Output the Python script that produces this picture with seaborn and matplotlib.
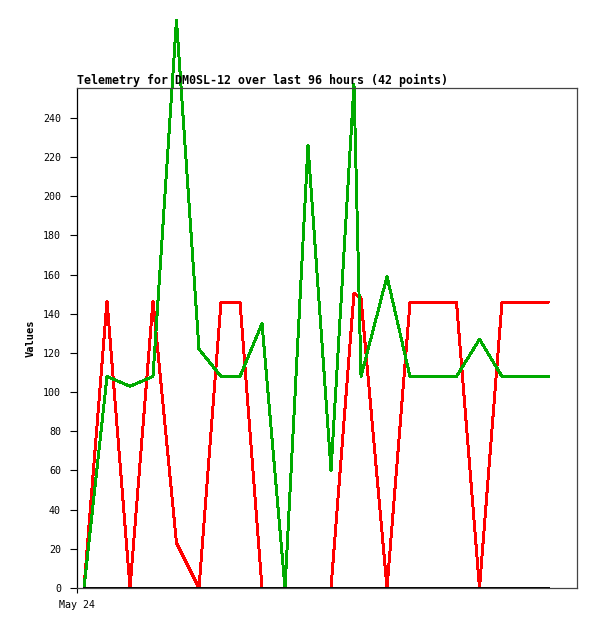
import matplotlib

matplotlib.use("Agg")
import matplotlib.pyplot as plt
import pandas as pd
import seaborn as sns

# hours since May 24 00:00
HOURS = [1.34, 5.76, 10.18, 14.59, 19.1, 23.42, 27.65, 31.3, 35.52, 39.94, 44.35,
         48.77, 53.18, 54.53, 59.52, 63.94, 68.35, 72.86, 77.28, 81.6, 86.02, 90.53]
RED_VALUES = [0, 146.5, 0, 146.5, 23, 0, 146, 146, 0, 0, 0,
              0, 150.5, 148, 0, 146, 146, 146, 0, 146, 146, 146]
GREEN_VALUES = [0, 108, 103, 108, 290, 122, 108, 108, 135, 0, 226,
                60, 257, 108, 159, 108, 108, 108, 127, 108, 108, 108]
BASE_VALUES = [0] * len(HOURS)

SERIES = ["Channel A", "Channel B", "Baseline"]
COLORS = ["#ff0000", "#00aa00", "#000000"]
Y_TICKS = [0, 20, 40, 60, 80, 100, 120, 140, 160, 180, 200, 220, 240]
TITLE = "Telemetry for DM0SL-12 over last 96 hours (42 points)"

frames = []
for name, values in zip(SERIES, [RED_VALUES, GREEN_VALUES, BASE_VALUES]):
    frames.append(pd.DataFrame({"hours": HOURS, "value": values, "series": name}))
data = pd.concat(frames, ignore_index=True)

sns.set_theme(style="white")
plt.rcParams["font.family"] = ["DejaVu Sans Mono", "DejaVu Sans"]
plt.rcParams["text.color"] = "black"
plt.rcParams["axes.labelcolor"] = "black"
plt.rcParams["xtick.color"] = "black"
plt.rcParams["ytick.color"] = "black"

fig = plt.figure(figsize=(5.97, 6.29), dpi=100)
ax = fig.add_axes([77 / 597, 41 / 629, 500 / 597, 500 / 629])

sns.lineplot(
    data=data,
    x="hours",
    y="value",
    hue="series",
    hue_order=SERIES,
    palette=COLORS,
    linewidth=1.4,
    legend=False,
    clip_on=False,
    antialiased=False,
    ax=ax,
)

ax.set_xlim(0, 96)
ax.set_ylim(0, 255.3)
ax.set_yticks(Y_TICKS)
ax.set_yticklabels([str(v) for v in Y_TICKS], fontsize=7.2)
ax.set_xticks([0])
ax.set_xticklabels(["May 24"], fontsize=7.2)
ax.tick_params(axis="y", direction="out", length=5, width=0.8, pad=6.5, left=True)
ax.tick_params(axis="x", direction="out", length=3.6, width=0.8, pad=5, bottom=True)
ax.set_xlabel("")
ax.set_ylabel("Values", fontsize=7.5, fontweight="bold", labelpad=5)
ax.set_title(TITLE, loc="left", fontsize=8.4, fontweight="bold", pad=3)

for side, spine in ax.spines.items():
    spine.set_visible(True)
    spine.set_linewidth(0.9)
    spine.set_color("black" if side == "left" else "#444444")

fig.savefig("out.png", dpi=100)
